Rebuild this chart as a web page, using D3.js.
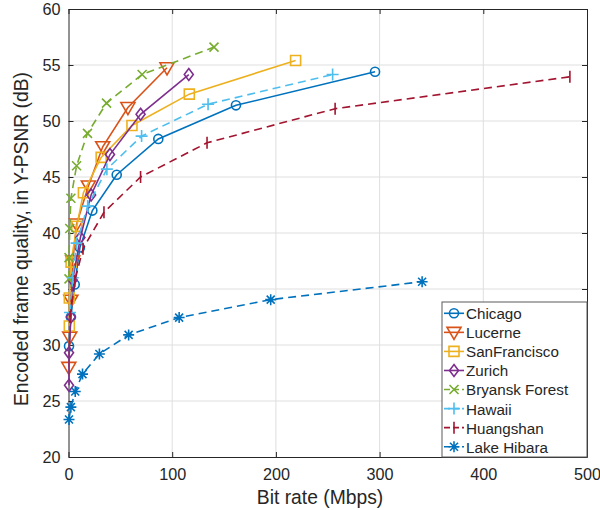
<!DOCTYPE html>
<html>
<head>
<meta charset="utf-8">
<script src="https://cdn.jsdelivr.net/npm/d3@7"></script>
<style>
  html, body { margin: 0; padding: 0; background: #fff; }
  svg { display: block; font-family: "Liberation Sans", Arial, sans-serif; }
</style>
</head>
<body>
<svg id="chart" width="600" height="510"></svg>
<script>
// Rate–quality curves per sequence: [bit rate (Mbps), Y-PSNR (dB)]
const chicago = [[0.5,29.9],[2.3,32.5],[6,35.4],[11,38.7],[23,42.0],[46.5,45.2],[86.6,48.4],[161.5,51.4],[295.6,54.4]];
const lucerne = [[0.3,28.0],[1.2,30.7],[2.3,34.0],[4.1,37.5],[7.8,40.8],[19.2,44.2],[33,47.7],[57.3,51.2],[95,54.75]];
const sanFrancisco = [[0.8,31.7],[0.8,34.2],[2.5,37.4],[8,40.6],[14.4,43.6],[31.5,46.75],[61.2,49.6],[116.5,52.4],[219,55.4]];
const zurich = [[0.5,26.4],[0.5,29.3],[2.3,32.5],[4,35.8],[11.5,39.6],[21.8,43.4],[40,47.0],[69.5,50.6],[116,54.15]];
const bryanskForest = [[0.5,35.9],[0.5,37.8],[1.2,40.4],[2.3,43.1],[7.8,46.0],[18.3,48.9],[36.7,51.6],[71,54.15],[140.3,56.6]];
const hawaii = [[1.5,32.9],[4.1,36.0],[7.8,39.1],[18.5,42.4],[37,45.7],[70.5,48.65],[134.6,51.5],[254.7,54.15]];
const huangshan = [[1.5,32.5],[6,35.7],[14,38.6],[34.2,41.85],[69.5,45.0],[133.6,48.05],[257.1,51.1],[483.5,53.95]];
const lakeHibara = [[0.5,23.35],[2.3,24.45],[6.5,25.85],[13.5,27.4],[29.8,29.2],[58,30.9],[106.7,32.45],[195,34.05],[341,35.65]];

const seriesNames = ["Chicago","Lucerne","SanFrancisco","Zurich","Bryansk Forest","Hawaii","Huangshan","Lake Hibara"];
const seriesData = [chicago, lucerne, sanFrancisco, zurich, bryanskForest, hawaii, huangshan, lakeHibara];

const xTicks = [0,100,200,300,400,500];
const yTicks = [20,25,30,35,40,45,50,55,60];
const xLabel = "Bit rate (Mbps)";
const yLabel = "Encoded frame quality, in Y-PSNR (dB)";

// Styling per series
const styles = [
  {color:"#0072BD", dash:null,  marker:"circle"},
  {color:"#D95319", dash:null,  marker:"triDown"},
  {color:"#EDB120", dash:null,  marker:"square"},
  {color:"#7E2F8E", dash:null,  marker:"diamond"},
  {color:"#77AC30", dash:"8,5", marker:"cross"},
  {color:"#4DBEEE", dash:"8,5", marker:"plus"},
  {color:"#A2142F", dash:"8,5", marker:"vbar"},
  {color:"#0072BD", dash:"8,5", marker:"star"}
];

const svg = d3.select("#chart");
const L = 68.5, R = 587, T = 9, B = 457;
const x = d3.scaleLinear().domain([0,500]).range([L,R]);
const y = d3.scaleLinear().domain([20,60]).range([B,T]);
const ink = "#262626";

// grid
const grid = svg.append("g");
grid.selectAll(".gx").data(xTicks.slice(1,-1)).join("line")
  .attr("x1", d=>x(d)).attr("x2", d=>x(d)).attr("y1", T).attr("y2", B)
  .attr("stroke", "#dfdfdf").attr("stroke-width", 1);
grid.selectAll(".gy").data(yTicks.slice(1,-1)).join("line")
  .attr("y1", d=>y(d)).attr("y2", d=>y(d)).attr("x1", L).attr("x2", R)
  .attr("stroke", "#dfdfdf").attr("stroke-width", 1);

// axes (ticks pointing inward, box on all sides)
const fmt = d3.format("d");
const axB = svg.append("g").attr("transform",`translate(0,${B})`)
  .call(d3.axisBottom(x).tickValues(xTicks).tickSizeInner(-5).tickSizeOuter(0).tickPadding(11).tickFormat(fmt));
const axT = svg.append("g").attr("transform",`translate(0,${T})`)
  .call(d3.axisTop(x).tickValues(xTicks).tickSizeInner(-5).tickSizeOuter(0).tickFormat(""));
const axL = svg.append("g").attr("transform",`translate(${L},0)`)
  .call(d3.axisLeft(y).tickValues(yTicks).tickSizeInner(-5).tickSizeOuter(0).tickPadding(8).tickFormat(fmt));
const axR = svg.append("g").attr("transform",`translate(${R},0)`)
  .call(d3.axisRight(y).tickValues(yTicks).tickSizeInner(-5).tickSizeOuter(0).tickFormat(""));
[axB, axT, axL, axR].forEach(a => {
  a.select(".domain").attr("stroke", ink).attr("stroke-width", 1);
  a.selectAll(".tick line").attr("stroke", ink);
  a.selectAll("text").attr("fill", ink).style("font-size", "16.2px")
    .style("font-family", '"Liberation Sans", Arial, sans-serif');
});

// axis titles
svg.append("text").attr("x", 320).attr("y", 504).attr("text-anchor","middle")
  .attr("fill", ink).style("font-size","19.3px").text(xLabel);
svg.append("text").attr("transform",`translate(28,239) rotate(-90)`)
  .attr("text-anchor","middle").attr("fill", ink).style("font-size","19.3px").text(yLabel);

// marker shapes
function markerPath(kind) {
  switch (kind) {
    case "circle":  return d3.symbol(d3.symbolCircle, 64)();
    case "square":  return "M-5,-5H5V5H-5Z";
    case "triDown": return "M-7,-5H7L0,7Z";
    case "diamond": return "M0,-6L4.5,0L0,6L-4.5,0Z";
    case "cross":   return "M-4.5,-4.5L4.5,4.5M-4.5,4.5L4.5,-4.5";
    case "plus":    return "M-6,0H6M0,-6V6";
    case "vbar":    return "M0,-6V6";
    case "star":    return "M-5.5,0H5.5M0,-5.5V5.5M-4,-4L4,4M-4,4L4,-4";
  }
}

const line = d3.line().x(d=>x(d[0])).y(d=>y(d[1]));
const plot = svg.append("g");
seriesData.forEach((data, i) => {
  const s = styles[i];
  const g = plot.append("g");
  g.append("path").datum(data).attr("d", line).attr("fill","none")
    .attr("stroke", s.color).attr("stroke-width", 1.6)
    .attr("stroke-dasharray", s.dash);
  g.selectAll("path.m").data(data).join("path").attr("class","m")
    .attr("transform", d=>`translate(${x(d[0])},${y(d[1])})`)
    .attr("d", markerPath(s.marker))
    .attr("fill","none").attr("stroke", s.color).attr("stroke-width", 1.6);
});

// legend
const lg = svg.append("g");
lg.append("rect").attr("x", 442).attr("y", 302).attr("width", 145).attr("height", 155)
  .attr("fill", "#fff").attr("stroke", "#5a5a5a").attr("stroke-width", 1);
seriesNames.forEach((name, i) => {
  const s = styles[i];
  const cy = 313.3 + i * 19.06;
  lg.append("line").attr("x1", 444).attr("x2", 464).attr("y1", cy).attr("y2", cy)
    .attr("stroke", s.color).attr("stroke-width", 1.6)
    .attr("stroke-dasharray", s.dash ? "6,3" : null);
  lg.append("path").attr("transform", `translate(454,${cy})`)
    .attr("d", markerPath(s.marker)).attr("fill","none")
    .attr("stroke", s.color).attr("stroke-width", 1.6);
  lg.append("text").attr("x", 466).attr("y", cy).attr("dy", "0.39em")
    .attr("fill", ink).style("font-size", "15.2px").text(name);
});
</script>
</body>
</html>
